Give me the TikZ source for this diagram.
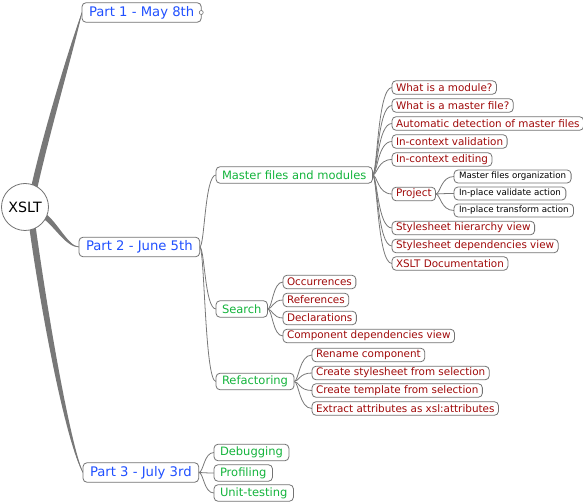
\documentclass[tikz,border=0pt]{standalone}
\usepackage{fontspec}
\setmainfont{DejaVu Sans}
\definecolor{partblue}{RGB}{32,80,255}
\definecolor{topicgreen}{RGB}{20,180,60}
\definecolor{itemred}{RGB}{160,10,10}
\definecolor{bordergray}{RGB}{115,115,115}
\definecolor{linegray}{RGB}{120,120,120}
\pgfdeclarelayer{bg}
\pgfsetlayers{bg,main}
\newcommand\mmconn[2]{\draw[conn] (#1.east) .. controls ([xshift=5pt]#1.east) and ([xshift=5pt]#1.east |- #2.west) .. (#2.west);}
\tikzset{
  box/.style={draw=bordergray, line width=0.8pt, rounded corners=4pt, fill=white, anchor=west, inner ysep=0pt, outer sep=0pt},
  lone/.style={box, text=partblue, font=\fontsize{13.2}{15}\selectfont, inner xsep=7pt, minimum height=19.5pt},
  ltwo/.style={box, text=topicgreen, font=\fontsize{11.5}{13}\selectfont, inner xsep=6pt, minimum height=16.5pt},
  lthree/.style={box, text=itemred, font=\fontsize{10.4}{12}\selectfont, inner xsep=4pt, minimum height=13.5pt},
  lfour/.style={box, text=black, font=\fontsize{8.7}{10}\selectfont, inner xsep=5pt, minimum height=13pt},
  conn/.style={draw=linegray, line width=0.8pt},
  band/.style={fill=linegray},
}
\begin{document}
\begin{tikzpicture}[x=1pt,y=-1pt]
\useasboundingbox (0,0) rectangle (583,502);
% nodes
\node[lone] (p1) at (82,12.5) {Part 1 - May 8th};
\node[lone] (p2) at (79,247) {Part 2 - June 5th};
\node[lone] (p3) at (83,472.5) {Part 3 - July 3rd};
\node[ltwo] (mf) at (216,175) {Master files and modules};
\node[ltwo] (se) at (216,309) {Search};
\node[ltwo] (rf) at (216,381.5) {Refactoring};
\node[lthree] (m1) at (392,87.5) {What is a module?};
\node[lthree] (m2) at (392,105.5) {What is a master file?};
\node[lthree] (m3) at (392,123.5) {Automatic detection of master files};
\node[lthree] (m4) at (392,141.5) {In-context validation};
\node[lthree] (m5) at (392,159.5) {In-context editing};
\node[lthree] (m6) at (392,194) {Project};
\node[lthree] (m7) at (392,228) {Stylesheet hierarchy view};
\node[lthree] (m8) at (392,246) {Stylesheet dependencies view};
\node[lthree] (m9) at (392,263.5) {XSLT Documentation};
\node[lfour] (j1) at (454,176.5) {Master files organization};
\node[lfour] (j2) at (454,193.5) {In-place validate action};
\node[lfour] (j3) at (454,210.5) {In-place transform action};
\node[lthree] (s1) at (283,282) {Occurrences};
\node[lthree] (s2) at (283,300) {References};
\node[lthree] (s3) at (283,318) {Declarations};
\node[lthree] (s4) at (283,336) {Component dependencies view};
\node[lthree] (r1) at (312,355) {Rename component};
\node[lthree] (r2) at (312,373) {Create stylesheet from selection};
\node[lthree] (r3) at (312,390.5) {Create template from selection};
\node[lthree] (r4) at (312,408.5) {Extract attributes as xsl:attributes};
\node[ltwo] (d1) at (214,452.5) {Debugging};
\node[ltwo] (d2) at (214,473) {Profiling};
\node[ltwo] (d3) at (214,493) {Unit-testing};
% root
\node[draw=bordergray, line width=0.8pt, circle, fill=white, minimum size=47pt, inner sep=0pt, font=\fontsize{14.2}{16}\selectfont] (root) at (25,207) {XSLT};
\node[draw=bordergray, line width=0.6pt, circle, fill=white, inner sep=0pt, minimum size=4pt] (fold) at (p1.east) {};
% connectors
\begin{pgfonlayer}{bg}
\foreach \a/\b in {p2/mf,p2/se,p2/rf,mf/m1,mf/m2,mf/m3,mf/m4,mf/m5,mf/m6,mf/m7,mf/m8,mf/m9,m6/j1,m6/j2,m6/j3,se/s1,se/s2,se/s3,se/s4,rf/r1,rf/r2,rf/r3,rf/r4,p3/d1,p3/d2,p3/d3}{\mmconn{\a}{\b}}
% tapered root branches
\fill[band] (30,192) .. controls (42,136) and (72,38) .. (p1.west) .. controls (76.5,40) and (48.5,136) .. (36.5,192) -- cycle;
\draw[conn] (33,192) .. controls (45,136) and (74,39) .. (p1.west);
\fill[band] (28.5,222) .. controls (42,320) and (67,446) .. (p3.west) .. controls (70.5,444) and (48.5,320) .. (35,222) -- cycle;
\draw[conn] (31.5,222) .. controls (45,320) and (68.5,445) .. (p3.west);
\fill[band] (43,212) .. controls (56,219) and (67.5,246) .. (p2.west) .. controls (66,248) and (54,225) .. (41,217) -- cycle;
\draw[conn] (42,214.5) .. controls (55,222) and (67,247) .. (p2.west);
\end{pgfonlayer}
\end{tikzpicture}
\end{document}
